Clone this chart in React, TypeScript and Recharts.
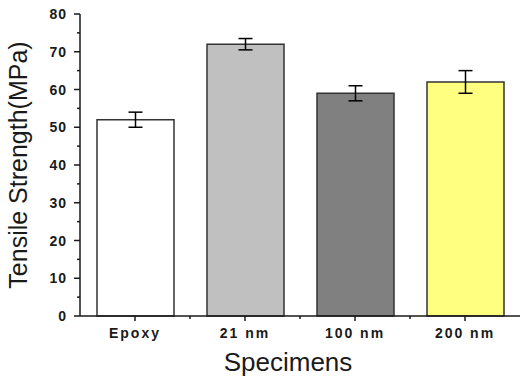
import React from 'react';
import { BarChart, Bar, Cell, XAxis, YAxis, ErrorBar } from 'recharts';

const specimens = ['Epoxy', '21 nm', '100 nm', '200 nm'];
const strength = [52, 72, 59, 62];
const strengthErr = [2, 1.5, 2, 3];
const barColors = ['#ffffff', '#c0c0c0', '#808080', '#ffff80'];
const yTicks = [0, 5, 10, 15, 20, 25, 30, 35, 40, 45, 50, 55, 60, 65, 70, 75, 80];

const W = 522;
const H = 381;
const Y_AXIS_W = 80;
const X_AXIS_H = 65;
const MARGIN = { top: 14, right: 2, bottom: 0, left: 0 };
const PLOT_W = W - Y_AXIS_W - MARGIN.right;
const FONT = '"Liberation Sans", Arial, sans-serif';
const INK = '#1a1a1a';

const data = specimens.map((name, i) => ({
  name,
  value: strength[i],
  err: strengthErr[i],
}));

const YTick = (props: any) => {
  const { x, y, payload } = props;
  const axisX = x + 10;
  const major = payload.value % 10 === 0;
  return (
    <g>
      <line x1={axisX - (major ? 6 : 3)} x2={axisX} y1={y} y2={y} stroke={INK} strokeWidth={1.5} />
      {major && (
        <text
          x={axisX - 13}
          y={y}
          textAnchor="end"
          dominantBaseline="central"
          fontFamily={FONT}
          fontWeight="bold"
          fontSize={14}
          letterSpacing={1}
          fill={INK}
        >
          {payload.value}
        </text>
      )}
    </g>
  );
};

const XTick = (props: any) => {
  const { x, y, payload, index } = props;
  const axisY = y - 12;
  const band = PLOT_W / specimens.length;
  return (
    <g>
      <line x1={x} x2={x} y1={axisY} y2={axisY + 5} stroke={INK} strokeWidth={1.5} />
      {index < specimens.length - 1 && (
        <line x1={x + band / 2} x2={x + band / 2} y1={axisY} y2={axisY + 3} stroke={INK} strokeWidth={1.5} />
      )}
      <text
        x={x}
        y={y}
        dy="0.71em"
        textAnchor="middle"
        fontFamily={FONT}
        fontWeight="bold"
        fontSize={14}
        letterSpacing={2}
        fill={INK}
      >
        {payload.value}
      </text>
    </g>
  );
};

export default function App() {
  return (
    <div style={{ position: 'absolute', left: 0, top: 0, width: W, height: H, background: '#fff' }}>
      <BarChart width={W} height={H} data={data} margin={MARGIN} barSize={77}>
        <XAxis
          dataKey="name"
          height={X_AXIS_H}
          tick={<XTick />}
          tickLine={false}
          tickSize={5}
          tickMargin={7}
          axisLine={{ stroke: INK, strokeWidth: 1.5 }}
          interval={0}
          label={{
            content: ({ viewBox }: any) => (
              <text
                x={viewBox.x + viewBox.width / 2 - 12}
                y={viewBox.y + 46}
                textAnchor="middle"
                dominantBaseline="central"
                fontFamily={FONT}
                fontSize={26}
                fill={INK}
              >
                Specimens
              </text>
            ),
          }}
        />
        <YAxis
          width={Y_AXIS_W}
          domain={[0, 80]}
          ticks={yTicks}
          interval={0}
          tick={<YTick />}
          tickLine={false}
          tickSize={6}
          tickMargin={4}
          axisLine={{ stroke: INK, strokeWidth: 1.5 }}
          label={{
            content: ({ viewBox }: any) => {
              const cx = 18;
              const cy = viewBox.y + viewBox.height / 2;
              return (
                <text
                  x={cx}
                  y={cy}
                  transform={`rotate(-90 ${cx} ${cy})`}
                  textAnchor="middle"
                  dominantBaseline="central"
                  fontFamily={FONT}
                  fontSize={25}
                  fill={INK}
                >
                  Tensile Strength(MPa)
                </text>
              );
            },
          }}
        />
        <Bar dataKey="value" stroke="#333" strokeWidth={1.5} isAnimationActive={false}>
          {data.map((d, i) => (
            <Cell key={d.name} fill={barColors[i]} />
          ))}
          <ErrorBar dataKey="err" width={7} stroke="#000" strokeWidth={1.5} direction="y" isAnimationActive={false} />
        </Bar>
      </BarChart>
    </div>
  );
}
